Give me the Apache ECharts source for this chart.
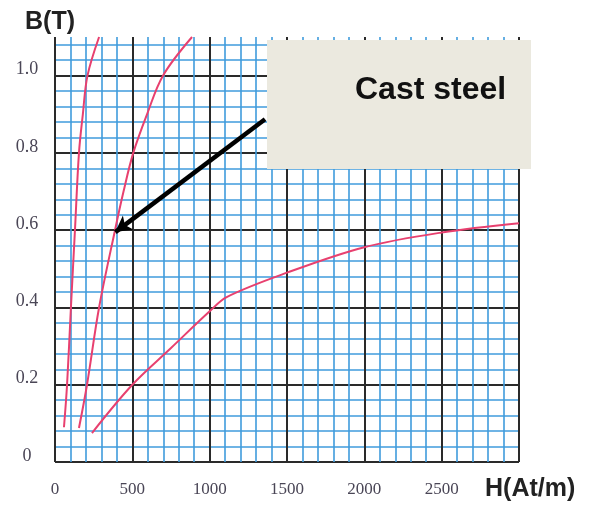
<!DOCTYPE html>
<html>
<head>
<meta charset="utf-8">
<script src="https://cdn.jsdelivr.net/npm/echarts@6/dist/echarts.min.js"></script>
<style>html,body{margin:0;padding:0;background:#fff;}#c{width:592px;height:506px;}</style>
</head>
<body>
<div id="c"></div>
<script>
// Curve data (H in At/m, B in T)
const curveSheet = [[58,0.09],[78,0.2],[103,0.4],[129,0.6],[155,0.8],[180,0.9],[210,1.0],[285,1.1]];
const curveCast = [[155,0.088],[207,0.2],[285,0.4],[388,0.6],[443,0.7],[506,0.8],[595,0.9],[698,1.0],[886,1.1]];
const curveIron = [[239,0.075],[500,0.2],[750,0.295],[1000,0.39],[1110,0.427],[1500,0.49],[2000,0.556],[2500,0.594],[3000,0.618]];
const arrowFrom = [1358, 0.887];
const arrowTo = [390, 0.595];
const xTicks = [0, 500, 1000, 1500, 2000, 2500];
const yTicks = [0, 0.2, 0.4, 0.6, 0.8, 1.0];
const annotation = 'Cast steel';
const xName = 'H(At/m)';
const yName = 'B(T)';

const chart = echarts.init(document.getElementById('c'), null, {renderer: 'canvas'});
const X_MAX = 3000, Y_MAX = 1.1;
const blue = '#3f9bdc', black = '#2a2a2a', red = '#e8406f';
const serif = '"Liberation Serif", "DejaVu Serif", serif';
const labelColor = '#4a4656';

function curve(data) {
  return {
    type: 'line', data: data, xAxisIndex: 1, yAxisIndex: 1,
    smooth: 0.35, symbol: 'none', z: 5,
    lineStyle: {color: red, width: 2}
  };
}

const option = {
  animation: false,
  backgroundColor: '#fff',
  grid: {left: 55, right: 73, top: 37, bottom: 44, containLabel: false},
  xAxis: [
    {type: 'value', position: 'bottom', min: 0, max: X_MAX, interval: 100,
     axisLine: {show: false}, axisTick: {show: false}, axisLabel: {show: false},
     splitLine: {show: true, lineStyle: {color: blue, width: 1.6}}},
    {type: 'value', position: 'bottom', min: 0, max: X_MAX, interval: 500,
     axisLine: {show: false}, axisTick: {show: false},
     axisLabel: {show: true, margin: 19, color: labelColor, fontFamily: serif, fontSize: 17,
       formatter: v => xTicks.indexOf(v) >= 0 ? String(v) : ''},
     splitLine: {show: true, lineStyle: {color: black, width: 2}}}
  ],
  yAxis: [
    {type: 'value', position: 'left', min: 0, max: Y_MAX, interval: 0.04,
     axisLine: {show: false}, axisTick: {show: false}, axisLabel: {show: false},
     splitLine: {show: true, showMaxLine: false, lineStyle: {color: blue, width: 1.6}}},
    {type: 'value', position: 'left', min: 0, max: Y_MAX, interval: 0.2,
     axisLine: {show: false}, axisTick: {show: false},
     axisLabel: {show: true, margin: 28, align: 'center', verticalAlign: 'bottom', lineHeight: 12,
       color: labelColor, fontFamily: serif, fontSize: 18,
       formatter: v => {
         const m = yTicks.find(t => Math.abs(t - v) < 1e-6);
         if (m === undefined) return '';
         return m === 0 ? '0' : m.toFixed(1);
       }},
     splitLine: {show: true, showMaxLine: false, lineStyle: {color: black, width: 2}}}
  ],
  series: [
    curve(curveSheet),
    Object.assign(curve(curveCast), {
      markLine: {
        silent: true, symbol: ['none', 'arrow'], symbolSize: [13, 16],
        label: {show: false},
        lineStyle: {color: '#000', width: 4.5, type: 'solid'},
        data: [[{coord: arrowFrom}, {coord: arrowTo}]],
        z: 6
      }
    }),
    curve(curveIron)
  ],
  graphic: [
    {type: 'rect', shape: {x: 267, y: 40, width: 264, height: 129}, style: {fill: '#ebe9df'}, z: 100},
    {type: 'text', x: 355, y: 90, z: 101,
     style: {text: annotation, fill: '#111', font: 'bold 32px "Liberation Sans", Arial, sans-serif', textAlign: 'left', textVerticalAlign: 'middle'}},
    {type: 'text', x: 25, y: 22, z: 101,
     style: {text: yName, fill: '#222', font: 'bold 25px "Liberation Sans", Arial, sans-serif', textAlign: 'left', textVerticalAlign: 'middle'}},
    {type: 'text', x: 485, y: 489, z: 101,
     style: {text: xName, fill: '#222', font: 'bold 25px "Liberation Sans", Arial, sans-serif', textAlign: 'left', textVerticalAlign: 'middle'}}
  ]
};
chart.setOption(option);
</script>
</body>
</html>
